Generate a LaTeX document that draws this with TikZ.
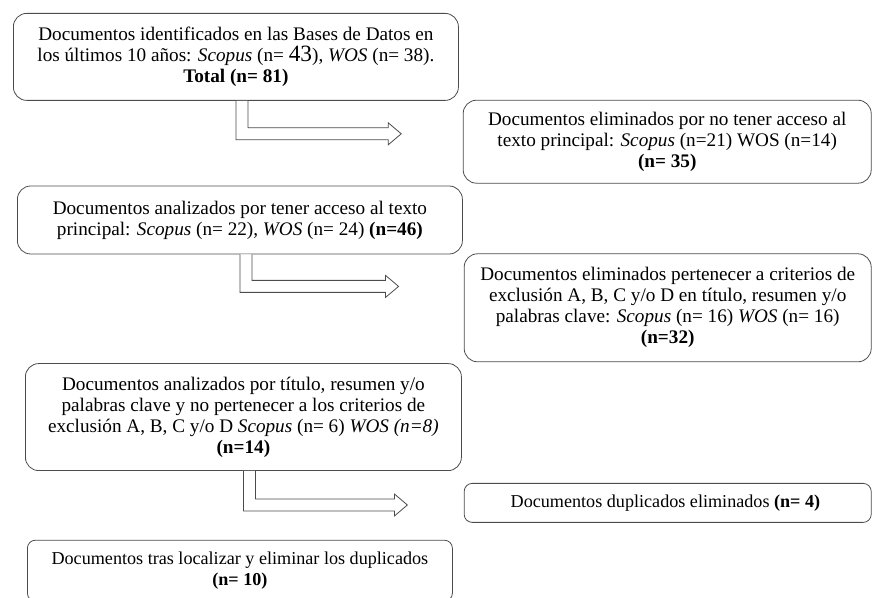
\documentclass[tikz,border=0pt]{standalone}
\usepackage{fontspec}
\setmainfont{Liberation Serif}
\usepackage{tikz}
\usetikzlibrary{positioning,calc}
\tikzset{
	auto,
	docbox/.style={
		rectangle, rounded corners=10pt, line width=0.6pt, draw=black!70,
		align=center, inner sep=2pt, font=\fontsize{14.4}{15.75}\selectfont
	},
	%
	thinbox/.style={
		docbox, rounded corners=6pt, font=\fontsize{13.6}{15.75}\selectfont
	},
	%
	hollowarrow/.style={
		line width=0.6pt, draw=black!70, fill=white
	}
}

\begin{document}
\begin{tikzpicture}
\useasboundingbox (0,0) rectangle (654pt,-448.5pt);

\node(idnt)[docbox, anchor=north west, minimum width=333.75pt, minimum height=65.25pt] at (9.75pt,-9.75pt){
    Documentos identificados en las Bases de Datos en\\
    los últimos 10 años: \textit{Scopus} (n= {\fontsize{17.5}{15.75}\selectfont 43}), \textit{WOS} (n= 38).\\
    \textbf{Total (n= 81)}
};

\node(noacc)[docbox, below right=-0.75pt and 3pt of idnt, minimum width=306pt, minimum height=62.25pt]{
    Documentos eliminados por no tener acceso al\\
    texto principal: \textit{Scopus} (n=21) WOS (n=14)\\
    \textbf{(n= 35)}
};

\node(acc)[docbox, below left=1.5pt and 0pt of noacc, minimum width=333.75pt, minimum height=51pt]{
    Documentos analizados por tener acceso al texto\\
    principal: \textit{Scopus} (n= 22), \textit{WOS} (n= 24) \textbf{(n=46)}
};

\node(excl)[docbox, below right=-0.75pt and 0.75pt of acc, minimum width=305.25pt, minimum height=81pt]{
    Documentos eliminados pertenecer a criterios de\\
    exclusión A, B, C y/o D en título, resumen y/o\\
    palabras clave: \textit{Scopus} (n= 16) \textit{WOS} (n= 16)\\
    \textbf{(n=32)}
};

\node(crit)[docbox, below left=0.75pt and 1.5pt of excl, minimum width=327pt, minimum height=80.25pt]{
    Documentos analizados por título, resumen y/o\\
    palabras clave y no pertenecer a los criterios de\\
    exclusión A, B, C y/o D \textit{Scopus} (n= 6) \textit{WOS (n=8)}\\
    \textbf{(n=14)}
};

\node(dupl)[thinbox, below right=9pt and 1.5pt of crit, minimum width=305.25pt, minimum height=29.25pt]{
    Documentos duplicados eliminados \textbf{(n= 4)}
};

\node(final)[thinbox, below left=12.75pt and 8.25pt of dupl, minimum width=318.75pt, minimum height=45.75pt]{
    Documentos tras localizar y eliminar los duplicados\\
    \textbf{(n= 10)}
};

% free ends of the hollow arrows
\coordinate (t1) at ($(idnt.south)+(124pt,-24.75pt)$);
\coordinate (t2) at ($(acc.south)+(119pt,-24pt)$);
\coordinate (t3) at ($(crit.south)+(123pt,-25.5pt)$);

\draw[hollowarrow] let \p1=(idnt.south), \p2=(t1) in
    (\x1,\y1) -- (\x1,\y2-4.5pt) -- (\x2-9.75pt,\y2-4.5pt) -- (\x2-9.75pt,\y2-8.25pt) -- (\x2,\y2)
    -- (\x2-9.75pt,\y2+8.25pt) -- (\x2-9.75pt,\y2+4.5pt) -- (\x1+9pt,\y2+4.5pt) -- (\x1+9pt,\y1);
\draw[hollowarrow] let \p1=(acc.south), \p2=(t2) in
    (\x1,\y1) -- (\x1,\y2-4.5pt) -- (\x2-9.75pt,\y2-4.5pt) -- (\x2-9.75pt,\y2-8.25pt) -- (\x2,\y2)
    -- (\x2-9.75pt,\y2+8.25pt) -- (\x2-9.75pt,\y2+4.5pt) -- (\x1+9pt,\y2+4.5pt) -- (\x1+9pt,\y1);
\draw[hollowarrow] let \p1=(crit.south), \p2=(t3) in
    (\x1,\y1) -- (\x1,\y2-4.5pt) -- (\x2-9.75pt,\y2-4.5pt) -- (\x2-9.75pt,\y2-8.25pt) -- (\x2,\y2)
    -- (\x2-9.75pt,\y2+8.25pt) -- (\x2-9.75pt,\y2+4.5pt) -- (\x1+9pt,\y2+4.5pt) -- (\x1+9pt,\y1);
\end{tikzpicture}
\end{document}
